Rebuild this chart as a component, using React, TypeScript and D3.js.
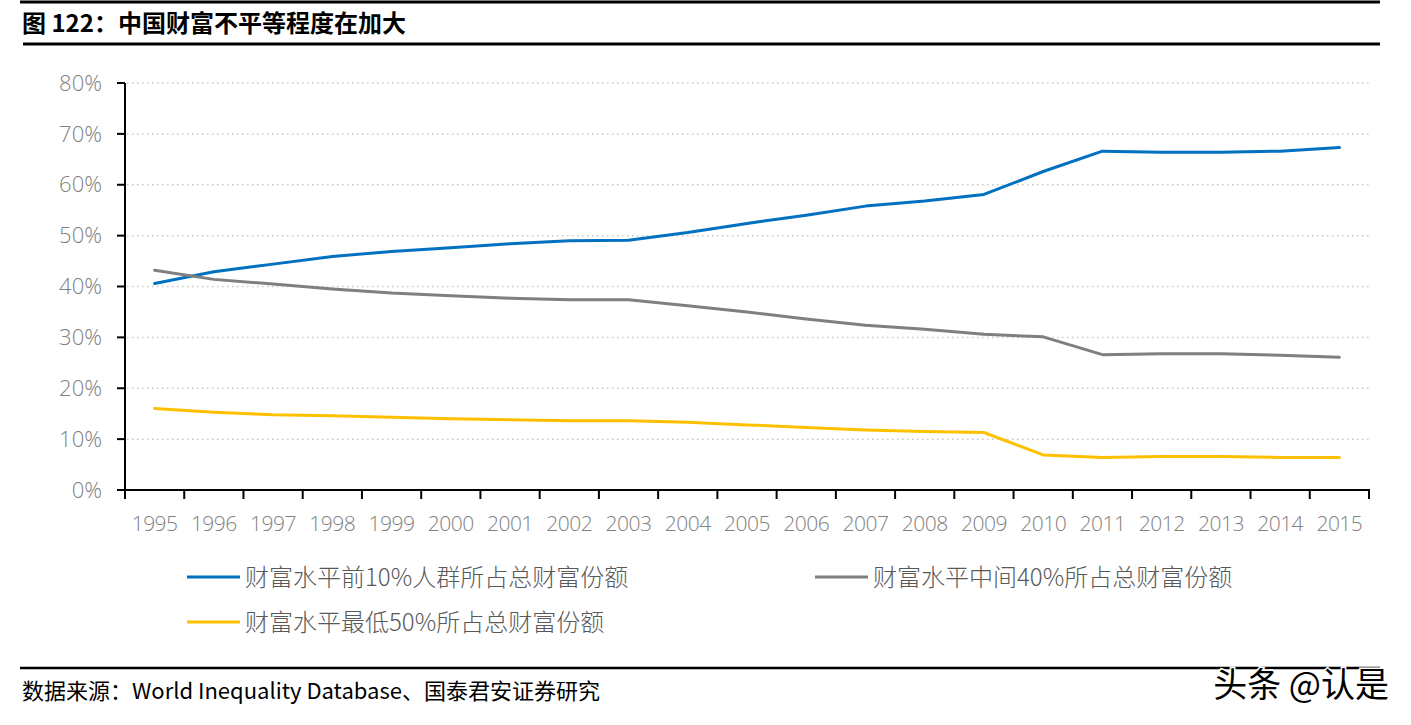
import * as d3 from "d3"

const years = ["1995","1996","1997","1998","1999","2000","2001","2002","2003","2004","2005","2006","2007","2008","2009","2010","2011","2012","2013","2014","2015"]
const top10 = [40.6, 42.9, 44.4, 45.9, 46.9, 47.6, 48.4, 49.0, 49.1, 50.6, 52.4, 54.0, 55.8, 56.8, 58.1, 62.6, 66.6, 66.4, 66.4, 66.6, 67.3]
const middle40 = [43.2, 41.4, 40.5, 39.5, 38.7, 38.2, 37.7, 37.4, 37.4, 36.2, 35.0, 33.6, 32.4, 31.6, 30.6, 30.1, 26.6, 26.8, 26.8, 26.5, 26.1]
const bottom50 = [16.0, 15.3, 14.8, 14.6, 14.3, 14.0, 13.8, 13.6, 13.6, 13.3, 12.8, 12.3, 11.8, 11.5, 11.3, 6.9, 6.4, 6.6, 6.6, 6.4, 6.4]
const yTicks = [0, 10, 20, 30, 40, 50, 60, 70, 80]

const seriesNames = ["财富水平前10%人群所占总财富份额", "财富水平中间40%所占总财富份额", "财富水平最低50%所占总财富份额"]
const seriesColors = ["#0070C0", "#7F7F7F", "#FFC000"]

const title = "图 122：中国财富不平等程度在加大"
const source = "数据来源：World Inequality Database、国泰君安证券研究"

const font = "'Open Sans', 'Noto Sans CJK SC', sans-serif"
const cjk = "'Noto Sans CJK SC', sans-serif"

export default function App() {
  const W = 1411, H = 725
  const left = 125, right = 1369, top = 83, bottom = 490
  const x = d3.scaleBand().domain(years).range([left, right])
  const y = d3.scaleLinear().domain([0, 80]).range([bottom, top])
  const line = d3.line<number>().x((_, i) => (x(years[i]) ?? 0) + x.bandwidth() / 2).y((v) => y(v))
  const all = [top10, middle40, bottom50]
  const boundaries = [...years.map((yr) => x(yr) ?? 0), right]

  const legend = [
    { x: 187, y: 577, i: 0 },
    { x: 815, y: 577, i: 1 },
    { x: 187, y: 622, i: 2 },
  ]

  return (
    <svg width={W} height={H} style={{ position: "absolute", left: 0, top: 0, background: "#fff" }}>
      <line x1={20} x2={1380} y1={2} y2={2} stroke="#000" strokeWidth={3} />
      <text x={22} y={32} fontFamily={cjk} fontWeight={700} fontSize={24} fill="#000">{title}</text>
      <line x1={23} x2={1380} y1={44} y2={44} stroke="#000" strokeWidth={3} />

      {yTicks.slice(1).map((t) => (
        <line key={t} x1={left + 2} x2={right} y1={y(t)} y2={y(t)} stroke="#c8c8c8" strokeWidth={1.5} strokeDasharray="1.5 3.5" />
      ))}

      <line x1={left} x2={left} y1={top} y2={bottom} stroke="#000" strokeWidth={2} />
      {yTicks.map((t) => (
        <g key={t}>
          <line x1={left - 8} x2={left} y1={y(t)} y2={y(t)} stroke="#000" strokeWidth={2} />
          <text x={102} y={y(t)} dy="0.35em" textAnchor="end" fontFamily={font} fontWeight={300} fontSize={22} fill="#808080">{t}%</text>
        </g>
      ))}

      <line x1={left - 1} x2={right + 1} y1={bottom} y2={bottom} stroke="#000" strokeWidth={2} />
      {boundaries.map((b, i) => (
        <line key={i} x1={b} x2={b} y1={bottom} y2={bottom + 9} stroke="#000" strokeWidth={2} />
      ))}
      {years.map((yr) => (
        <text key={yr} x={(x(yr) ?? 0) + x.bandwidth() / 2} y={531} textAnchor="middle" fontFamily={font} fontWeight={300} fontSize={21} letterSpacing={-0.5} fill="#808080">{yr}</text>
      ))}

      {all.map((s, i) => (
        <path key={i} d={line(s) ?? ""} fill="none" stroke={seriesColors[i]} strokeWidth={3} strokeLinejoin="round" strokeLinecap="round" />
      ))}

      {legend.map((l) => (
        <g key={l.i}>
          <line x1={l.x} x2={l.x + 53} y1={l.y} y2={l.y} stroke={seriesColors[l.i]} strokeWidth={3} />
          <text x={l.x + 58} y={l.y} dy="0.36em" fontFamily={cjk} fontWeight={300} fontSize={24} fill="#595959">{seriesNames[l.i]}</text>
        </g>
      ))}

      <line x1={20} x2={1380} y1={668} y2={668} stroke="#000" strokeWidth={2.5} />
      <text x={22} y={699} fontFamily={cjk} fontSize={22} fill="#000">{source}</text>
      <text x={1389} y={697} textAnchor="end" fontFamily={cjk} fontSize={34} fill="#000" stroke="#fff" strokeWidth={3} paintOrder="stroke">头条 @认是</text>
    </svg>
  )
}
